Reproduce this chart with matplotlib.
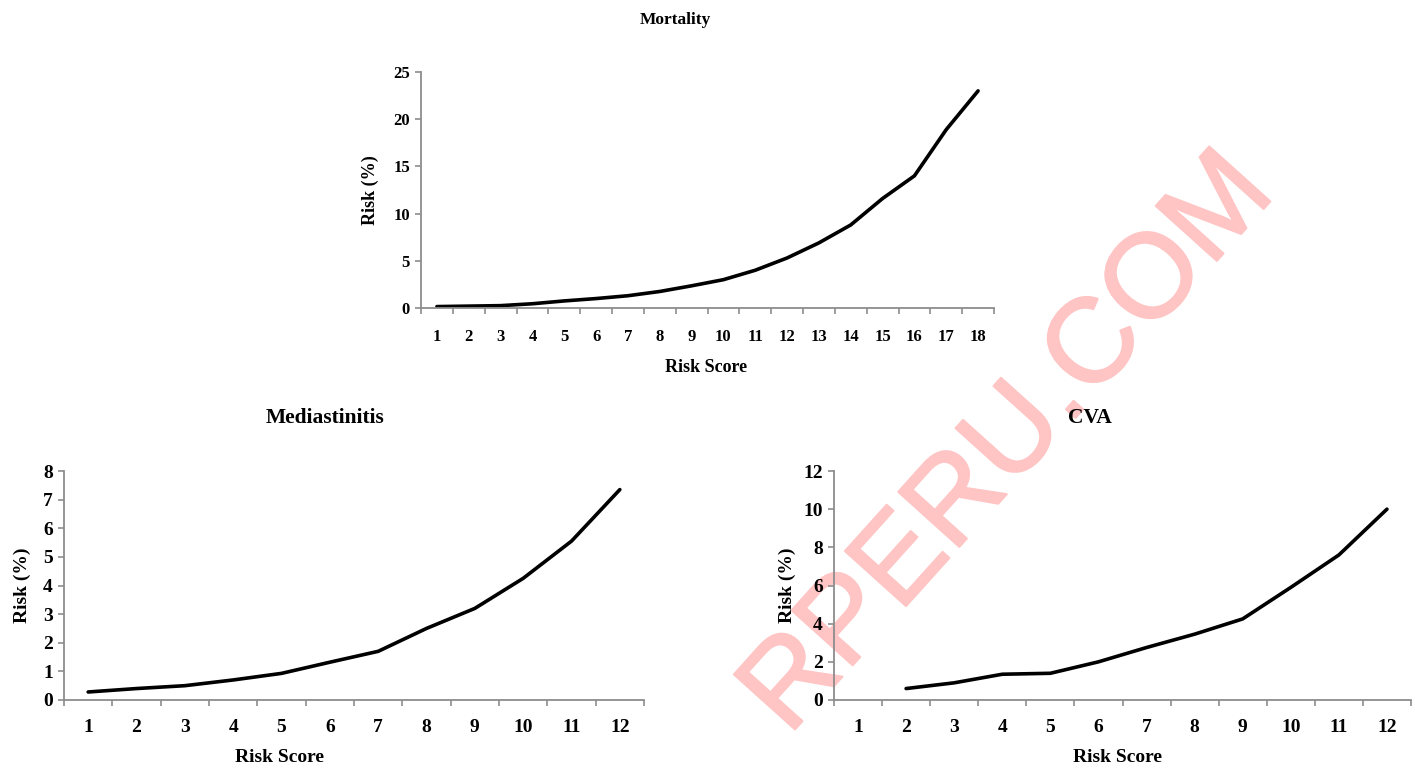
import numpy as np
import matplotlib
matplotlib.use("Agg")
import matplotlib.pyplot as plt
import matplotlib.patheffects as pe

# ---- data ----
mort_scores = list(range(1, 19))
mort_risk = [0.15, 0.2, 0.25, 0.45, 0.75, 1.0, 1.3, 1.75, 2.35, 3.0,
             4.0, 5.3, 6.9, 8.8, 11.6, 14.0, 18.9, 23.0]

med_scores = list(range(1, 13))
med_risk = [0.28, 0.4, 0.5, 0.7, 0.93, 1.32, 1.7, 2.5, 3.2, 4.25, 5.55, 7.35]

cva_scores = list(range(1, 13))
cva_risk = [np.nan, 0.6, 0.9, 1.35, 1.4, 2.0, 2.75, 3.45, 4.25, 5.9, 7.6, 10.0]

W, H = 1415, 768
plt.rcParams['font.family'] = ['Liberation Serif', 'DejaVu Serif']
plt.rcParams['font.weight'] = 'bold'

fig = plt.figure(figsize=(W / 100, H / 100), dpi=100)
fig.patch.set_facecolor('white')

GRAY = '#8c8c8c'
WM = '#ffc4c4'


def px_axes(left, top, right, bottom):
    return fig.add_axes([left / W, 1 - bottom / H, (right - left) / W, (bottom - top) / H])


def style(ax, scores, risk, ymax, ystep, tick_fs, label_fs, xlab_x, ylab_x, xpad):
    n = len(scores)
    ax.plot(scores, risk, color='black', lw=2.6, solid_joinstyle='round', solid_capstyle='round')
    ax.set_xlim(0.5, n + 0.5)
    ax.set_ylim(0, ymax)
    ax.set_yticks(np.arange(0, ymax + 0.001, ystep))
    ax.set_xticks(scores)
    ax.set_xticklabels([str(s) for s in scores])
    ax.set_xticks(np.arange(0.5, n + 1, 1), minor=True)
    for s in ['top', 'right']:
        ax.spines[s].set_visible(False)
    for s in ['left', 'bottom']:
        ax.spines[s].set_color(GRAY)
        ax.spines[s].set_linewidth(1.3)
    ax.tick_params(axis='x', which='major', length=0, pad=xpad, labelsize=tick_fs)
    ax.tick_params(axis='x', which='minor', length=4, width=1.2, color=GRAY, direction='out')
    ax.tick_params(axis='y', which='major', length=4, width=1.2, color=GRAY, direction='out',
                   pad=4, labelsize=tick_fs)
    for lab in ax.get_xticklabels() + ax.get_yticklabels():
        lab.set_fontweight('bold')
    ax.set_xlabel('Risk Score', fontsize=label_fs, fontweight='bold', va='center')
    ax.set_ylabel('Risk (%)', fontsize=label_fs, fontweight='bold', va='center')
    ax.xaxis.set_label_coords(xlab_x, -0.253)
    ax.yaxis.set_label_coords(ylab_x, 0.5)
    ax.patch.set_alpha(0)


# watermark (drawn behind the charts)
fig.text(1010 / W, 1 - 445 / H, 'RPERU.COM', ha='center', va='center', rotation=48,
         fontsize=86, family='Liberation Sans', fontweight='normal', color=WM,
         path_effects=[pe.withStroke(linewidth=1.5, foreground=WM)], zorder=-1)

# Mortality
ax1 = px_axes(421, 72, 994, 308)
style(ax1, mort_scores, mort_risk, 25, 5, 12, 13, 0.497, -0.089, 15)
fig.text(675 / W, 1 - 20 / H, 'Mortality', ha='center', va='center',
         fontsize=12.5, fontweight='bold')

# Mediastinitis
ax2 = px_axes(64, 471, 644, 700)
style(ax2, med_scores, med_risk, 8, 1, 14, 14, 0.372, -0.0724, 14)
fig.text(325 / W, 1 - 418 / H, 'Mediastinitis', ha='center', va='center',
         fontsize=15.5, fontweight='bold')

# CVA
ax3 = px_axes(834, 471, 1411, 700)
style(ax3, cva_scores, cva_risk, 12, 2, 14, 14, 0.492, -0.0815, 14)
fig.text(1090 / W, 1 - 418 / H, 'CVA', ha='center', va='center',
         fontsize=15.5, fontweight='bold')

fig.savefig('out.png', dpi=100, facecolor='white')
